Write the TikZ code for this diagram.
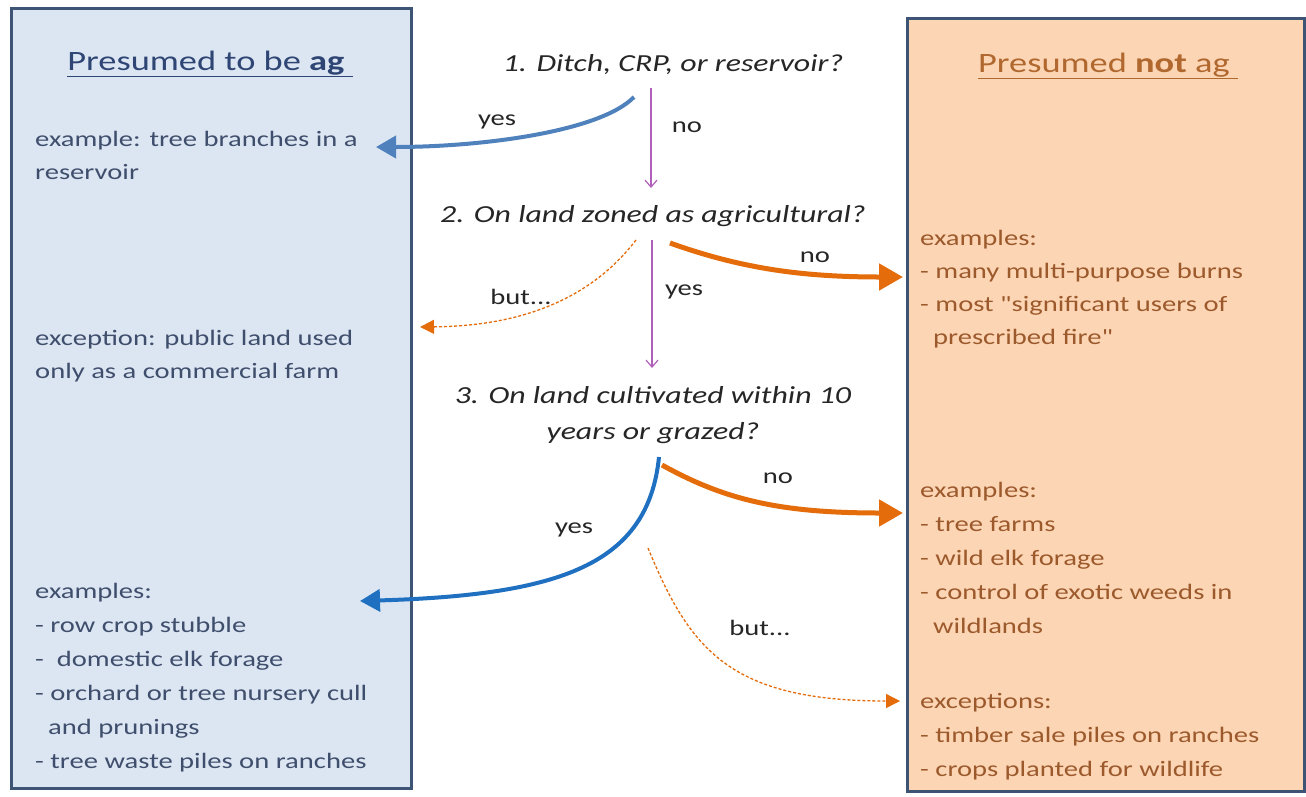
\documentclass[tikz,border=0pt]{standalone}
\usepackage{fontspec}
\setmainfont{Carlito}[FakeStretch=1.3]
\newfontfamily\nomap{Carlito}[FakeStretch=1.3,Ligatures=TeXOff]
\usetikzlibrary{arrows.meta}
\definecolor{agfill}{HTML}{DCE6F2}
\definecolor{notfill}{HTML}{FCD5B5}
\definecolor{boxline}{HTML}{3E5475}
\definecolor{agtext}{HTML}{3F4E6C}
\definecolor{agtitle}{HTML}{2F4675}
\definecolor{nottext}{HTML}{9C5A2C}
\definecolor{nottitle}{HTML}{B0682F}
\definecolor{qtext}{HTML}{262626}
\definecolor{blueA}{HTML}{4F81BD}
\definecolor{blueB}{HTML}{1F70C1}
\definecolor{orangeA}{HTML}{E46C0A}
\definecolor{purpleA}{HTML}{B060B8}
\newcommand{\sq}{{\nomap\char34}}
\begin{document}
\begin{tikzpicture}[x=1pt,y=-1pt,
  panel/.style={draw=boxline,line width=3pt,anchor=north west,inner sep=0pt},
  body/.style={font=\fontsize{22pt}{34pt}\selectfont,align=left,anchor=base west,inner sep=0pt},
  ttl/.style={font=\fontsize{28pt}{30pt}\selectfont,anchor=base,inner sep=0pt},
  quest/.style={font=\fontsize{24.5pt}{36pt}\selectfont\itshape,text=qtext,align=center,anchor=base,inner sep=0pt},
  lbl/.style={font=\fontsize{22pt}{24pt}\selectfont,text=qtext,inner sep=0pt},
  bluearrow/.style={draw=blueA,line width=4pt,-{Triangle[length=20pt,width=22pt]}},
  bluearrowB/.style={draw=blueB,line width=4pt,-{Triangle[length=20pt,width=22pt]}},
  orangearrow/.style={draw=orangeA,line width=5pt,-{Triangle[length=24pt,width=26pt]}},
  butarrow/.style={draw=orangeA,line width=1.3pt,dash pattern=on 3pt off 2pt,-{Triangle[length=14pt,width=14pt]}},
  purplearrow/.style={draw=purpleA,line width=1.2pt,-{Straight Barb[length=7pt,width=12pt]}}
]
\useasboundingbox (0,0) rectangle (1306,796);
\fill[white] (0,0) rectangle (1306,796);
% panels
\node[panel,fill=agfill,minimum width=400pt,minimum height=780pt] (agbox) at (10,7) {};
\node[panel,fill=notfill,minimum width=397pt,minimum height=773pt] (notbox) at (906,17) {};
% titles
\node[ttl,text=agtitle] (agtitle) at (210,70) {\underline{Presumed to be \textbf{ag}\ }};
\node[ttl,text=nottitle] (nottitle) at (1108,72) {\underline{Presumed \textbf{not} ag\ }};
% left texts (anchor = baseline of last line)
\node[body,text=agtext,font=\fontsize{22pt}{32.5pt}\selectfont] (agex1) at (35,179) {example: tree branches in a\\reservoir};
\node[body,text=agtext,font=\fontsize{22pt}{32.5pt}\selectfont] (agexc) at (35,378) {exception: public land used\\only as a commercial farm};
\node[body,text=agtext] (agex2) at (35,768) {examples:\\- row crop stubble\\-\ \ domestic elk forage\\- orchard or tree nursery cull\\\ \ and prunings\\- tree waste piles on ranches};
% right texts
\node[body,text=nottext,font=\fontsize{22pt}{33pt}\selectfont] (notex1) at (920,344) {examples:\\- many multi-purpose burns\\- most \sq significant users of\\\ \ prescribed fire\sq};
\node[body,text=nottext] (notex2) at (920,633) {examples:\\- tree farms\\- wild elk forage\\- control of exotic weeds in\\\ \ wildlands};
\node[body,text=nottext] (notexc) at (920,776) {exceptions:\\- timber sale piles on ranches\\- crops planted for wildlife};
% questions
\node[quest] (q1) at (673,71) {1. Ditch, CRP, or reservoir?};
\node[quest] (q2) at (653,222) {2. On land zoned as agricultural?};
\node[quest] (q3) at (653,439) {3. On land cultivated within 10\\years or grazed?};
% connector end points
\coordinate (a1s) at (634,97);  \coordinate (a1e) at (376,147);
\coordinate (p1s) at (651,88);  \coordinate (p1e) at (651,188);
\coordinate (o2s) at (670,243); \coordinate (o2e) at (903,277);
\coordinate (d2s) at (636,240); \coordinate (d2e) at (420,327);
\coordinate (p2s) at (652,240); \coordinate (p2e) at (652,368);
\coordinate (b3s) at (659,457); \coordinate (b3e) at (360,601);
\coordinate (o3s) at (662,465); \coordinate (o3e) at (903,513);
\coordinate (d3s) at (648,548); \coordinate (d3e) at (900,701);
% connectors
\draw[bluearrow] (a1s) .. controls (600,132) and (480,147) .. (a1e);
\draw[purplearrow] (p1s) -- (p1e);
\draw[orangearrow] (o2s) .. controls (740,268) and (800,277) .. (o2e);
\draw[butarrow] (d2s) .. controls (590,300) and (520,326) .. (d2e);
\draw[purplearrow] (p2s) -- (p2e);
\draw[bluearrowB] (b3s) .. controls (648,565) and (560,595) .. (b3e);
\draw[orangearrow] (o3s) .. controls (725,500) and (780,513) .. (o3e);
\draw[butarrow] (d3s) .. controls (690,650) and (730,701) .. (d3e);
% labels
\node[lbl] (l1) at (497,122) {yes};
\node[lbl] (l2) at (687,127) {no};
\node[lbl] (l3) at (815,257) {no};
\node[lbl] (l4) at (521,297) {but...};
\node[lbl] (l5) at (684,292) {yes};
\node[lbl] (l6) at (574,530) {yes};
\node[lbl] (l7) at (778,478) {no};
\node[lbl] (l8) at (760,628) {but...};
\end{tikzpicture}
\end{document}
